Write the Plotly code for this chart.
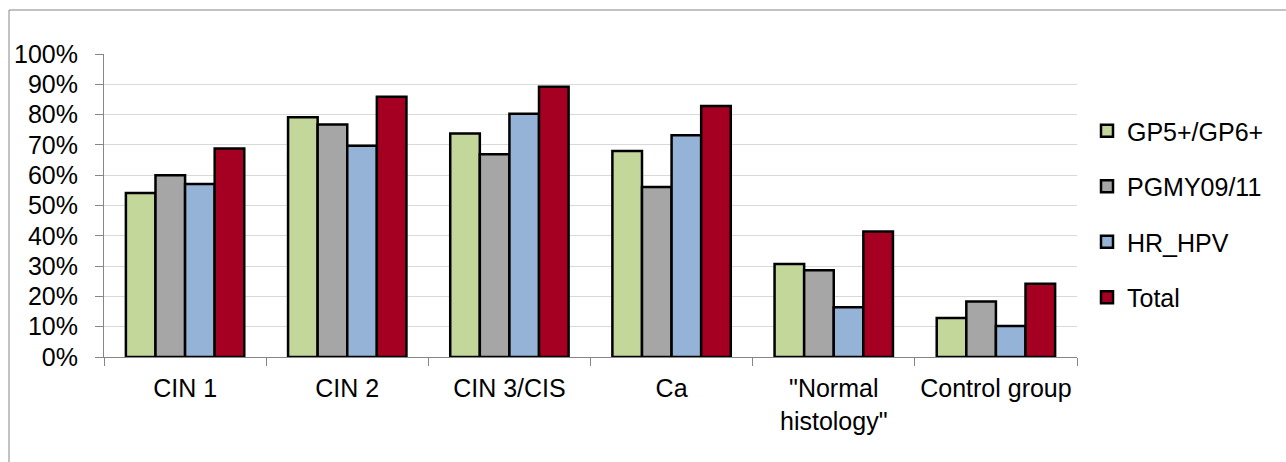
import plotly.graph_objects as go

categories = ["CIN 1", "CIN 2", "CIN 3/CIS", "Ca", "\"Normal<br>histology\"", "Control group"]
gp5_gp6 = [54.1, 79.1, 73.8, 68.0, 30.7, 12.9]
pgmy09_11 = [60.0, 76.7, 66.9, 56.1, 28.6, 18.3]
hr_hpv = [57.1, 69.7, 80.3, 73.2, 16.4, 10.2]
total = [68.8, 85.9, 89.2, 82.8, 41.4, 24.2]

series = [
    ("GP5+/GP6+", gp5_gp6, "#c4d79b"),
    ("PGMY09/11", pgmy09_11, "#a6a6a6"),
    ("HR_HPV", hr_hpv, "#95b3d7"),
    ("Total", total, "#a50021"),
]

W, H = 1286, 462
L, R, T, B = 104, 209, 54, 105
PW, PH = W - L - R, H - T - B

fig = go.Figure()
for name, vals, color in series:
    fig.add_trace(go.Bar(
        name=name, x=categories, y=vals, legendgroup=name,
        marker=dict(color=color, line=dict(color="#000000", width=2.5)),
    ))

def px_x(p):
    return (p - L) / PW

def px_y(p):
    return (H - B - p) / PH

# open frame around the chart (left and top edges)
fig.add_shape(type="line", xref="paper", yref="paper",
              x0=px_x(9), x1=px_x(9), y0=px_y(10), y1=px_y(H + 5),
              line=dict(color="#868686", width=1))
fig.add_shape(type="line", xref="paper", yref="paper",
              x0=px_x(9), x1=px_x(W + 5), y0=px_y(10), y1=px_y(10),
              line=dict(color="#868686", width=1))

fig.update_layout(
    width=W, height=H,
    margin=dict(l=L, r=R, t=T, b=B, pad=0),
    paper_bgcolor="white", plot_bgcolor="white",
    font=dict(family="Liberation Sans, Arial, sans-serif", size=25, color="#000000"),
    barmode="group", bargap=0.27, bargroupgap=0,
    showlegend=True,
    legend=dict(x=px_x(1087), xanchor="left", y=px_y(214), yanchor="middle",
                tracegroupgap=20, font=dict(size=25),
                bgcolor="rgba(0,0,0,0)"),
)
fig.update_xaxes(
    showline=True, linecolor="#868686", linewidth=1,
    ticks="outside", ticklen=8, tickcolor="#868686", tickson="boundaries",
    ticklabelstandoff=9,
    showgrid=False,
)
fig.update_yaxes(
    range=[0, 100], dtick=10, ticksuffix="%",
    showline=True, linecolor="#868686", linewidth=1,
    ticks="outside", ticklen=8, tickcolor="#868686",
    ticklabelstandoff=12,
    showgrid=True, gridcolor="#d9d9d9", gridwidth=1,
    zeroline=False,
)

fig.write_html("out.html")
